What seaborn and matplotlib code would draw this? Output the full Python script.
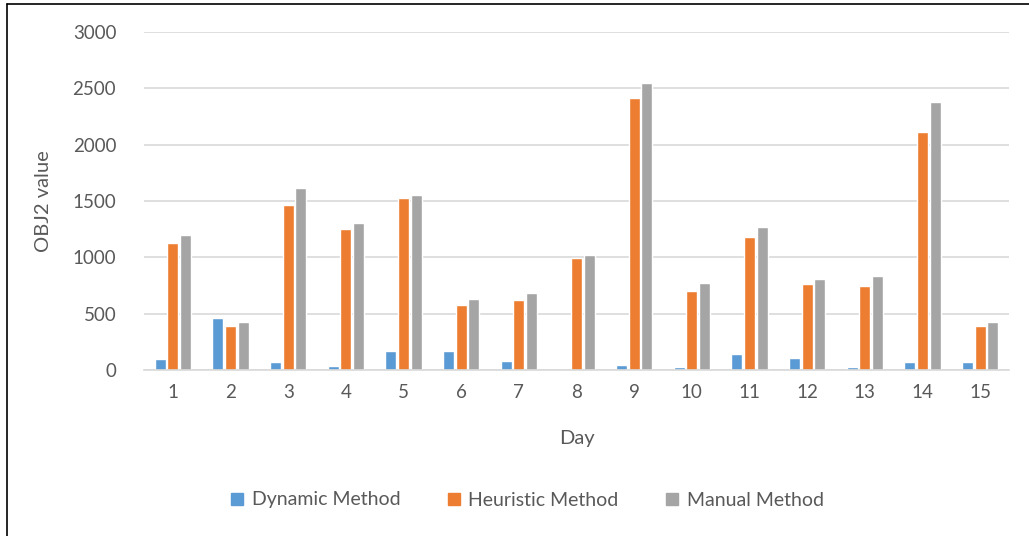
import matplotlib
matplotlib.use("Agg")
import matplotlib.pyplot as plt
import seaborn as sns
import pandas as pd
from matplotlib.lines import Line2D

days = [str(d) for d in range(1, 16)]
dynamic = [100, 465, 67, 34, 171, 173, 82, 2, 46, 28, 144, 107, 28, 67, 73]
heuristic = [1127, 387, 1464, 1251, 1527, 580, 621, 994, 2414, 701, 1180, 763, 746, 2112, 392]
manual = [1198, 423, 1615, 1305, 1553, 630, 683, 1020, 2545, 772, 1269, 808, 834, 2375, 423]
methods = ["Dynamic Method", "Heuristic Method", "Manual Method"]
colors = ["#5B9BD5", "#ED7D31", "#A5A5A5"]

df = pd.DataFrame({
    "Day": days * 3,
    "Method": [methods[0]] * 15 + [methods[1]] * 15 + [methods[2]] * 15,
    "Value": dynamic + heuristic + manual,
})

sns.set_theme(style="white")
plt.rcParams["font.family"] = ["Lato", "DejaVu Sans"]

fig = plt.figure(figsize=(10.29, 5.36), dpi=100)
ax = fig.add_axes([144 / 1029, 1 - 370 / 536, (1009 - 144) / 1029, (370 - 32) / 536])

sns.barplot(data=df, x="Day", y="Value", hue="Method", palette=colors,
            width=0.66, gap=0.14, ax=ax, legend=False, saturation=1)

ax.set_ylim(0, 3000)
ax.set_yticks(range(0, 3001, 500))
ax.yaxis.grid(True, color="#D9D9D9", linewidth=1.2)
ax.set_axisbelow(True)
for s in ["top", "right", "left"]:
    ax.spines[s].set_visible(False)
ax.spines["bottom"].set_color("#D9D9D9")
ax.spines["bottom"].set_linewidth(1.2)
ax.tick_params(axis="both", length=0, colors="#595959", labelsize=13.5)
ax.tick_params(axis="x", pad=10)
ax.tick_params(axis="y", pad=20)
ax.set_xlabel("Day", fontsize=14.5, color="#595959", labelpad=21)
ax.set_ylabel("OBJ2 value", fontsize=14.5, color="#595959", labelpad=15)

handles = [Line2D([0], [0], marker="s", linestyle="none", markersize=8,
                  markerfacecolor=c, markeredgecolor=c) for c in colors]
fig.legend(handles, methods, loc="center", bbox_to_anchor=(527 / 1029, 1 - 500 / 536),
           ncol=3, frameon=False, fontsize=14, labelcolor="#595959",
           handlelength=0.7, handletextpad=0.4, columnspacing=2.4)

# border lines (top and left)
fig.add_artist(Line2D([7 / 1029, 1], [1 - 4 / 536, 1 - 4 / 536], color="black", linewidth=1.2))
fig.add_artist(Line2D([7 / 1029, 7 / 1029], [0, 1 - 4 / 536], color="black", linewidth=1.2))

fig.savefig("out.png", dpi=100)
